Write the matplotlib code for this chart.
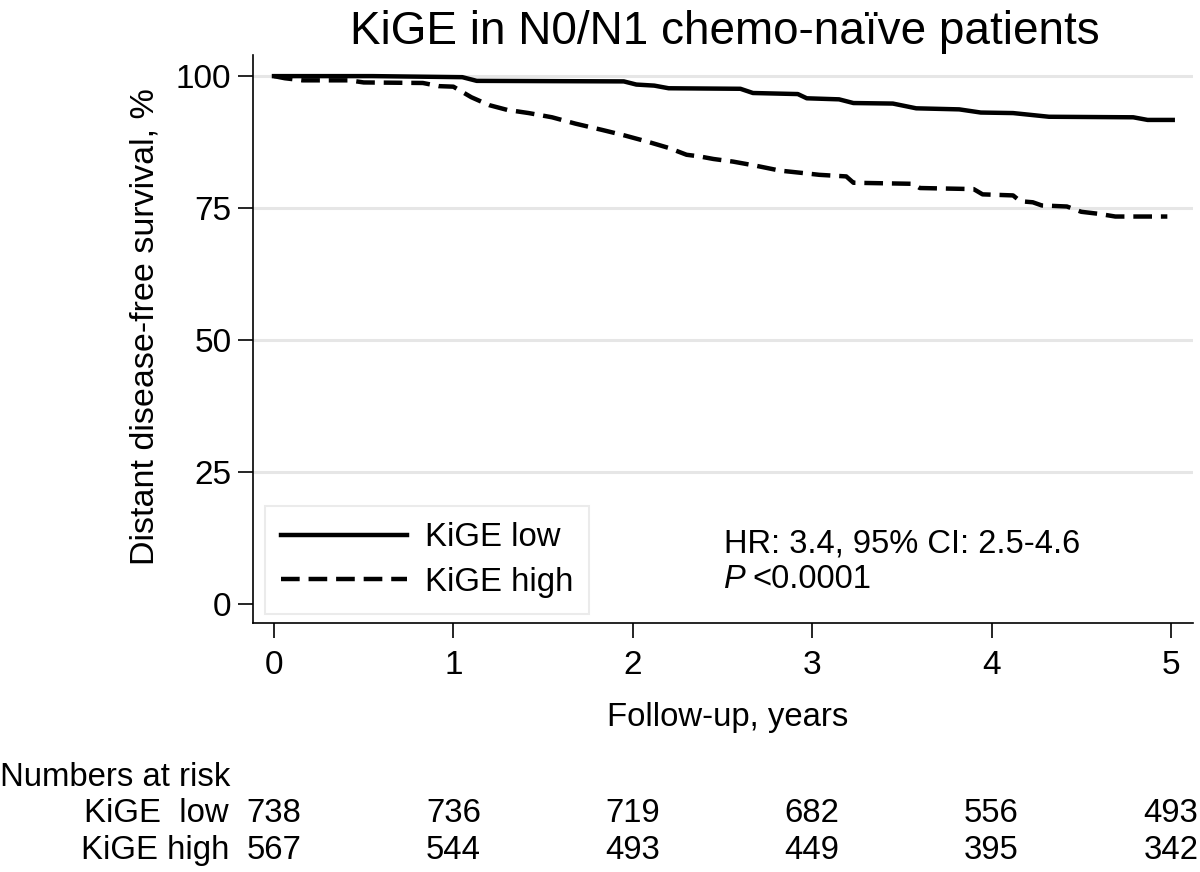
import matplotlib
matplotlib.use('Agg')
import matplotlib.pyplot as plt
import matplotlib.transforms as mtransforms

plt.rcParams['font.family'] = ['Liberation Sans', 'DejaVu Sans']

# Kaplan-Meier curves (years, % distant disease-free survival)
low_t = [0, 0.55, 1.05, 1.13, 1.95, 2.02, 2.12, 2.2, 2.6, 2.67, 2.92, 2.97, 3.15,
         3.23, 3.45, 3.58, 3.82, 3.94, 4.12, 4.32, 4.79, 4.87, 5.01]
low_s = [100, 100, 99.8, 99.1, 99.0, 98.4, 98.2, 97.7, 97.6, 96.8, 96.6, 95.8, 95.6,
         94.9, 94.8, 93.9, 93.7, 93.1, 93.0, 92.3, 92.2, 91.7, 91.7]

high_t = [0, 0.06, 0.16, 0.42, 0.5, 0.83, 0.92, 1.0, 1.1, 1.2, 1.3, 1.42, 1.55,
          1.68, 1.83, 1.95, 2.08, 2.2, 2.3, 2.37, 2.45, 2.56, 2.69, 2.82, 2.96,
          3.04, 3.19, 3.23, 3.56, 3.6, 3.9, 3.95, 4.12, 4.16, 4.23, 4.28, 4.42,
          4.5, 4.6, 4.69, 4.98]
high_s = [100, 99.6, 99.2, 99.2, 98.8, 98.7, 98.1, 98.0, 96.0, 94.5, 93.6, 93.0, 92.2,
          91.0, 89.8, 88.8, 87.6, 86.4, 85.1, 84.8, 84.3, 83.8, 83.0, 82.1, 81.6,
          81.3, 81.0, 79.8, 79.6, 78.8, 78.6, 77.6, 77.4, 76.3, 76.1, 75.5, 75.3,
          74.3, 73.9, 73.4, 73.4]

risk_years = [0, 1, 2, 3, 4, 5]
risk_low = [738, 736, 719, 682, 556, 493]
risk_high = [567, 544, 493, 449, 395, 342]

yticks = [0, 25, 50, 75, 100]

fig = plt.figure(figsize=(12, 8.72), dpi=100)
ax = fig.add_axes([253/1200, 1 - 623/872, 940/1200, 568/872])

for y in yticks[1:]:
    ax.axhline(y, color='#e6e6e6', lw=2.2, zorder=0)

ax.plot(low_t, low_s, color='black', lw=3.2, label='KiGE low')
ax.plot(high_t, high_s, color='black', lw=3.2,
        linestyle=(0, (4.2, 2.0)), label='KiGE high')

ax.set_xlim(-0.117, 5.123)
ax.set_ylim(-3.6, 104)
ax.set_xticks(risk_years)
ax.set_yticks(yticks)
ax.tick_params(labelsize=24, length=10.5, width=1.2, direction='out', colors='black')
ax.tick_params(axis='x', pad=9)
ax.tick_params(axis='y', pad=5)
for s in ['top', 'right']:
    ax.spines[s].set_visible(False)
for s in ['left', 'bottom']:
    ax.spines[s].set_linewidth(1.2)

leg = ax.legend(loc='lower left', bbox_to_anchor=(265/1200, 1 - 614/872),
                bbox_transform=fig.transFigure, borderaxespad=0, fontsize=23.7,
                handlelength=3.8, handletextpad=0.55, labelspacing=0.41,
                fancybox=False, borderpad=0.5, frameon=True)
leg.get_frame().set_edgecolor('#e6e6e6')
leg.get_frame().set_linewidth(1.5)

fig.text(725/1200, 1 - 32/872, 'KiGE in N0/N1 chemo-naïve patients',
         ha='center', va='center', fontsize=33)
fig.text(145/1200, 1 - 327/872, 'Distant disease-free survival, %',
         rotation=90, ha='center', va='center', fontsize=24.5)
fig.text(728/1200, 1 - 717/872, 'Follow-up, years', ha='center', va='center', fontsize=23.7)

fig.text(724/1200, 1 - 544/872, 'HR: 3.4, 95% CI: 2.5-4.6', ha='left', va='center', fontsize=23.5)
fig.text(724/1200, 1 - 580/872, 'P', ha='left', va='center', fontsize=23.5, style='italic')
fig.text(752/1200, 1 - 580/872, '<0.0001', ha='left', va='center', fontsize=23.5)

fig.text(0, 1 - 777/872, 'Numbers at risk', ha='left', va='center', fontsize=23.7)
fig.text(229/1200, 1 - 813/872, 'KiGE  low', ha='right', va='center', fontsize=23.7)
fig.text(229/1200, 1 - 850/872, 'KiGE high', ha='right', va='center', fontsize=23.7)

trans = mtransforms.blended_transform_factory(ax.transData, fig.transFigure)
for x, a, b in zip(risk_years, risk_low, risk_high):
    ax.text(x, 1 - 813/872, str(a), transform=trans, ha='center', va='center',
            fontsize=23.7, clip_on=False)
    ax.text(x, 1 - 850/872, str(b), transform=trans, ha='center', va='center',
            fontsize=23.7, clip_on=False)

fig.savefig('out.png', dpi=100)
